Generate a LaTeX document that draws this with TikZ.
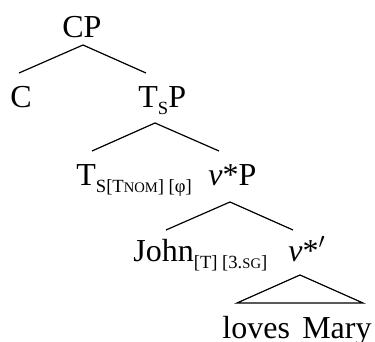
\documentclass[tikz,border=0pt]{standalone}
\usepackage{fontspec}
\setmainfont{Liberation Serif}
\usepackage{tikz}
\newcommand{\subtxt}[1]{\raisebox{-3.5pt}{\fontsize{9.3}{11}\selectfont #1}}
\newcommand{\smc}[1]{{\fontsize{7.3}{9}\selectfont #1}}

\begin{document}
\begin{tikzpicture}[
  x=0.5pt,y=-0.5pt,
  lab/.style={inner sep=0pt,anchor=base west,font=\fontsize{16}{19}\selectfont},
  branch/.style={line width=0.6pt},
]
\useasboundingbox (0,0) rectangle (375,342);
\node[lab] (cp) at (62,38) {CP};
\node[lab] (c) at (10,108) {C};
\node[lab] (tsp) at (138,108) {T\subtxt{S}P};
\node[lab] (ts) at (76,185) {T\subtxt{S[T\smc{NOM}] [φ]}};
\node[lab] (vp) at (208,185) {\textit{v}*P};
\node[lab] (john) at (133,261) {John\subtxt{[T] [3.\smc{SG}]}};
\node[lab] (vbar) at (288,261) {\textit{v}*$'$};
\node[lab] (loves) at (222,338) {loves};
\node[lab,anchor=base east] (mary) at (372,338) {Mary};

\draw[branch] ([shift={(21,7)}]cp.base west) -- ([shift={(9,-35)}]c.base west);
\draw[branch] ([shift={(21,7)}]cp.base west) -- ([shift={(8,-35)}]tsp.base west);
\draw[branch] ([shift={(17,15)}]tsp.base west) -- ([shift={(16,-34)}]ts.base west);
\draw[branch] ([shift={(17,15)}]tsp.base west) -- ([shift={(11,-34)}]vp.base west);
\draw[branch] ([shift={(22,17)}]vp.base west) -- ([shift={(33,-31)}]john.base west);
\draw[branch] ([shift={(22,17)}]vp.base west) -- ([shift={(5,-31)}]vbar.base west);
\draw[branch] ([shift={(12,14)}]vbar.base west) -- ([shift={(15,-35)}]loves.base west)
  -- ([shift={(-9,-35)}]mary.base east) -- cycle;
\end{tikzpicture}
\end{document}
